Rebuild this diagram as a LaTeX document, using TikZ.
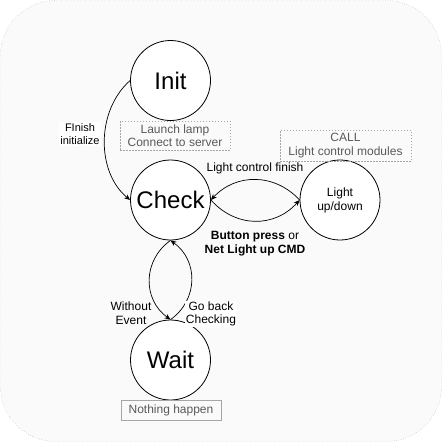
\documentclass[tikz,border=0pt]{standalone}
\usepackage{fontspec}
\setmainfont{Liberation Sans}
\usetikzlibrary{arrows.meta,positioning,calc}

\begin{document}
\begin{tikzpicture}[
    x=1pt, y=-1pt,
    state/.style={draw, circle, minimum size=80pt, inner sep=0pt, fill=white, line width=0.8pt, font=\fontsize{24}{28}\selectfont},
    small state/.style={state, font=\fontsize{12}{14}\selectfont, align=center},
    note/.style={draw=gray!70, dash pattern=on 1.5pt off 1.5pt, text=black!65, align=center, font=\fontsize{12}{13.5}\selectfont, inner sep=1.5pt},
    edge/.style={-{Stealth[length=6pt, width=5pt]}, line width=0.7pt},
    label/.style={align=center, font=\fontsize{12}{13.5}\selectfont, inner sep=1pt},
]

% Frame
\useasboundingbox (0,0) rectangle (442,442);
\draw[gray!80, fill=black!2, dotted, rounded corners=55pt] (0.5,0.5) rectangle (441.5,441.5);

% States
\node[state] (init) at (170.5, 80.5) {Init};
\node[state] (check) at (170.5, 200) {Check};
\node[small state] (light) at (340, 200) {Light\\up/down};
\node[state] (wait) at (170.5, 360) {Wait};

% Notes
\node[note, minimum width=110pt, minimum height=29pt] (initnote) at (175, 135.5) {Launch lamp\\Connect to server};
\node[note, minimum width=131pt, minimum height=31pt] (lightnote) at (345.5, 145.5) {CALL\\Light control modules};
\node[note, dash pattern=, minimum width=100pt, minimum height=20pt] (waitnote) at (171, 410) {Nothing happen};

% Edges
\draw[edge] (init.west) .. controls +(-34,30) and +(-34,-28) .. (check.west);
\draw[edge] (check.east) .. controls +(25,28) and +(-25,28) .. (light.west);
\draw[edge] (light.west) .. controls +(-25,-27) and +(25,-27) .. (check.east);
\draw[edge] (check.south) .. controls +(-28,20) and +(-28,-20) .. (wait.north);
\draw[edge] (wait.north) .. controls +(28,-20) and +(28,20) .. (check.south);

% Edge labels
\node[label, fill=white, font=\fontsize{11}{13}\selectfont] (finishlbl) at (80, 134) {FInish\\initialize};
\node[label] (lightlbl) at (255, 168) {Light control finish};
\node[label] (presslbl) at (255, 243.5) {\textbf{Button press} or\\\textbf{Net Light up CMD}};
\node[label] (withoutlbl) at (131, 313) {Without\\Event};
\node[label, fill=white] (backlbl) at (211, 314) {Go back\\Checking};

\end{tikzpicture}
\end{document}
